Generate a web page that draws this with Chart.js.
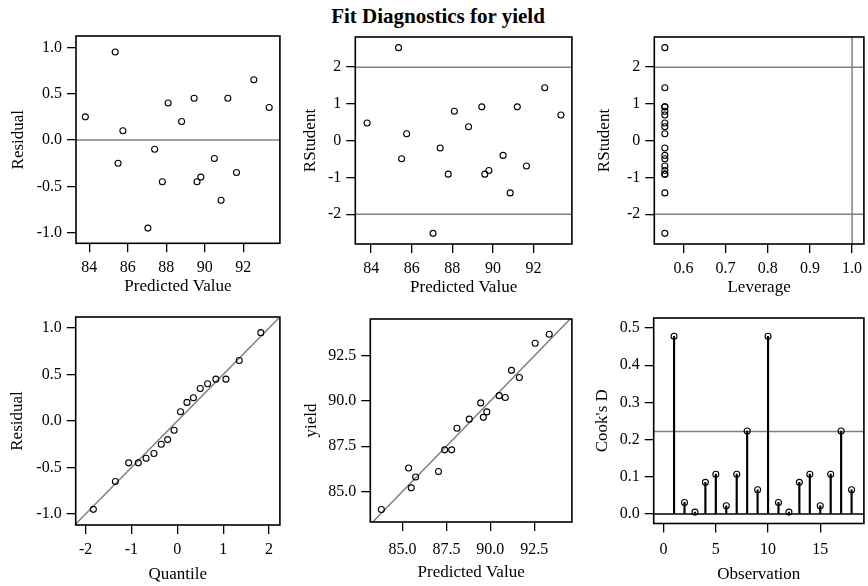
<!DOCTYPE html>
<html><head><meta charset="utf-8">
<script src="https://cdn.jsdelivr.net/npm/chart.js@4/dist/chart.umd.min.js"></script>
<style>
html,body{margin:0;padding:0;background:#fff;width:868px;height:586px;overflow:hidden;position:relative;}
#title{position:absolute;left:4px;top:6px;width:868px;text-align:center;font:bold 21px "Liberation Serif";line-height:21px;color:#000;}
canvas{position:absolute;}
</style></head><body>
<div id="title">Fit Diagnostics for yield</div>
<script>
// ---- data ----
const observation = [1,2,3,4,5,6,7,8,9,10,11,12,13,14,15,16,17,18];
const predicted = [83.8,85.35,85.5,85.75,87.05,87.4,87.8,88.1,88.8,89.45,89.6,89.8,90.5,90.85,91.2,91.65,92.55,93.35];
const residual = [0.25,0.95,-0.25,0.1,-0.95,-0.1,-0.45,0.4,0.2,0.45,-0.45,-0.4,-0.2,-0.65,0.45,-0.35,0.65,0.35];
const yieldObs = [84.0,86.3,85.2,85.8,86.1,87.3,87.3,88.5,89.0,89.9,89.1,89.4,90.3,90.2,91.7,91.3,93.2,93.7];
const rstudent = [0.48,2.53,-0.49,0.19,-2.52,-0.2,-0.91,0.8,0.38,0.92,-0.91,-0.81,-0.4,-1.42,0.92,-0.69,1.44,0.7];
const leverage = [0.556,0.556,0.556,0.556,0.556,0.556,0.556,0.556,0.556,0.556,0.556,0.556,0.556,0.556,0.556,0.556,0.556,0.556];
const cooksD = [0.478,0.031,0.005,0.085,0.107,0.022,0.107,0.223,0.065,0.478,0.031,0.005,0.085,0.107,0.022,0.107,0.223,0.065];
const normalQuantile = [-1.83,-1.35,-1.06,-0.85,-0.68,-0.51,-0.35,-0.21,-0.07,0.07,0.21,0.35,0.5,0.66,0.84,1.06,1.35,1.82];
const qqResidual = [-0.95,-0.65,-0.45,-0.45,-0.4,-0.35,-0.25,-0.2,-0.1,0.1,0.2,0.25,0.35,0.4,0.45,0.45,0.65,0.95];
// reference lines
const rstudentLimits = [-2, 2];
const leverageCutoff = [1.0];
const cooksCutoff = [0.222];
const qqIntercept = 0, qqSlope = 0.5;
// tick labels
const ticksPred = [84,86,88,90,92];
const ticksResid = [-1.0,-0.5,0.0,0.5,1.0];
const ticksRStud = [-2,-1,0,1,2];
const ticksLev = [0.6,0.7,0.8,0.9,1.0];
const ticksQuant = [-2,-1,0,1,2];
const ticksYield = [85.0,87.5,90.0,92.5];
const ticksObs = [0,5,10,15];
const ticksCook = [0.0,0.1,0.2,0.3,0.4,0.5];

Chart.defaults.font.family = 'Liberation Serif';
Chart.defaults.color = '#000';

const framePlugin = {
  id:'frame',
  afterDatasetsDraw(chart){
    const {ctx, chartArea:a} = chart;
    ctx.save(); ctx.strokeStyle='#000'; ctx.lineWidth=1.6;
    ctx.strokeRect(a.left, a.top, a.right-a.left, a.bottom-a.top);
    ctx.restore();
  }
};

function axis(pos, min, max, ticks, dec, title, size, tickPad){
  return {
    type:'linear', position:pos, min:min, max:max, offset:false,
    afterBuildTicks: s => { s.ticks = ticks.map(v=>({value:v})); },
    afterFit: s => {
      if (pos==='bottom'){ s.height=size; s.paddingLeft=0; s.paddingRight=0; }
      else { s.width=size; s.paddingTop=0; s.paddingBottom=0; }
    },
    grid:{display:true, drawOnChartArea:false, drawTicks:true, tickLength:9, color:'#000', tickColor:'#000', tickWidth:1.3, offset:false, lineWidth:1.3},
    border:{display:false},
    ticks:{color:'#000', font:{size:16}, padding:tickPad, maxRotation:0, minRotation:0, autoSkip:false, callback:v=>Number(v).toFixed(dec)},
    title:{display:true, text:title, color:'#000', font:{size:17}, padding:3.8}
  };
}

function points(xs, ys){
  return {type:'scatter', data:xs.map((x,i)=>({x:x,y:ys[i]})), pointStyle:'circle', pointRadius:3, pointHoverRadius:3,
    borderColor:'#000', backgroundColor:'rgba(0,0,0,0)', pointBorderWidth:1.1, borderWidth:1.1, showLine:false, order:0};
}
function refLine(pts, color, width){
  return {type:'line', data:pts, borderColor:color||'#808080', borderWidth:width||1.5, pointRadius:0, fill:false, tension:0, order:5, clip:0};
}

function makePanel(g, xAx, yAx, datasets){
  const left = g.ytx - 14, top = g.T - 12, right = g.R + 1, bottom = g.xty + 14;
  const c = document.createElement('canvas');
  const w = Math.round(right-left), h = Math.round(bottom-top);
  c.width = w; c.height = h; c.style.width = w+'px'; c.style.height = h+'px';
  c.style.left = left+'px'; c.style.top = top+'px';
  document.body.appendChild(c);
  const wy = g.L - left, hx = bottom - g.B;
  const xs = axis('bottom', xAx.min, xAx.max, xAx.ticks, xAx.dec, xAx.title, hx, g.xpad);
  const ys = axis('left', yAx.min, yAx.max, yAx.ticks, yAx.dec, yAx.title, wy, 5);
  new Chart(c, {
    type:'scatter',
    data:{datasets:datasets},
    options:{responsive:false, animation:false, events:[],
      layout:{padding:{left:0, top:g.T-top, right:right-g.R, bottom:0}},
      plugins:{legend:{display:false}, tooltip:{enabled:false}},
      scales:{x:xs, y:ys}},
    plugins:[framePlugin]
  });
}

// Panel 1: Residual vs Predicted
(function(){
  const X = {min:83.315, max:93.905, ticks:ticksPred, dec:0, title:'Predicted Value'};
  const Y = {min:-1.114, max:1.122, ticks:ticksResid, dec:1, title:'Residual'};
  makePanel({L:76,T:36,R:283.3,B:243.3,ytx:19,xty:287,xpad:5.7}, X, Y, [
    refLine([{x:X.min,y:0},{x:X.max,y:0}]),
    points(predicted, residual)
  ]);
})();
// Panel 2: RStudent vs Predicted
(function(){
  const X = {min:83.22, max:93.89, ticks:ticksPred, dec:0, title:'Predicted Value'};
  const Y = {min:-2.81, max:2.82, ticks:ticksRStud, dec:0, title:'RStudent'};
  makePanel({L:355,T:36.5,R:575,B:243,ytx:310.7,xty:287,xpad:5.7}, X, Y, [
    ...rstudentLimits.map(v=>refLine([{x:X.min,y:v},{x:X.max,y:v}])),
    points(predicted, rstudent)
  ]);
})();
// Panel 3: RStudent vs Leverage
(function(){
  const X = {min:0.531, max:1.028, ticks:ticksLev, dec:1, title:'Leverage'};
  const Y = {min:-2.81, max:2.82, ticks:ticksRStud, dec:0, title:'RStudent'};
  makePanel({L:654.3,T:36.5,R:867,B:243,ytx:605,xty:287,xpad:5.7}, X, Y, [
    ...rstudentLimits.map(v=>refLine([{x:X.min,y:v},{x:X.max,y:v}])),
    ...leverageCutoff.map(v=>refLine([{x:v,y:Y.min},{x:v,y:Y.max}])),
    points(leverage, rstudent)
  ]);
})();
// Panel 4: Q-Q plot
(function(){
  const X = {min:-2.215, max:2.236, ticks:ticksQuant, dec:0, title:'Quantile'};
  const Y = {min:-1.118, max:1.118, ticks:ticksResid, dec:1, title:'Residual'};
  makePanel({L:76,T:317.3,R:283.3,B:525,ytx:18.3,xty:575,xpad:6.4}, X, Y, [
    refLine([{x:X.min,y:qqIntercept+qqSlope*X.min},{x:X.max,y:qqIntercept+qqSlope*X.max}]),
    points(normalQuantile, qqResidual)
  ]);
})();
// Panel 5: yield vs Predicted
(function(){
  const X = {min:83.17, max:94.64, ticks:ticksYield, dec:1, title:'Predicted Value'};
  const Y = {min:83.31, max:94.54, ticks:ticksYield, dec:1, title:'yield'};
  makePanel({L:370,T:319.3,R:575,B:522,ytx:311.7,xty:573,xpad:9.4}, X, Y, [
    refLine([{x:X.min,y:X.min},{x:X.max,y:X.max}]),
    points(predicted, yieldObs)
  ]);
})();
// Panel 6: Cook's D vs Observation
(function(){
  const X = {min:-0.95, max:19.18, ticks:ticksObs, dec:0, title:'Observation'};
  const Y = {min:-0.0256, max:0.527, ticks:ticksCook, dec:1, title:"Cook's D"};
  makePanel({L:654,T:318.3,R:867,B:523.5,ytx:603.3,xty:575,xpad:7.9}, X, Y, [
    ...cooksCutoff.map(v=>refLine([{x:X.min,y:v},{x:X.max,y:v}])),
    refLine([{x:X.min,y:0},{x:X.max,y:0}], '#000', 1.5),
    {type:'bar', data:observation.map((o,i)=>({x:o,y:cooksD[i]})), backgroundColor:'#000', borderWidth:0, barThickness:1.5, order:3},
    points(observation, cooksD)
  ]);
})();
</script>
</body></html>
